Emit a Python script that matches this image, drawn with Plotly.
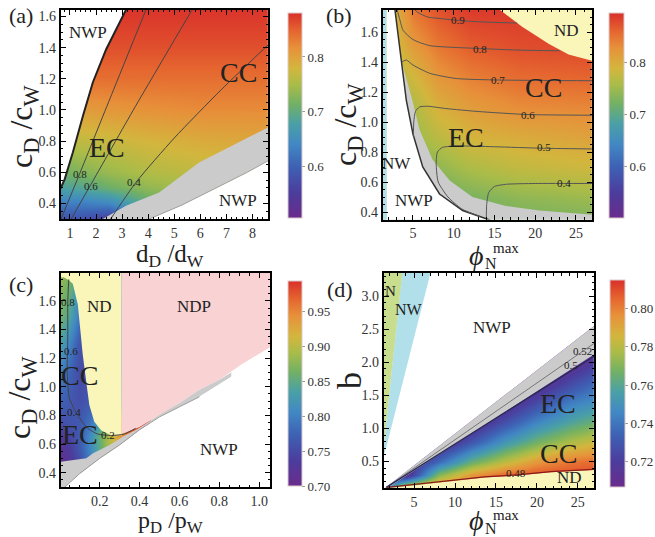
import plotly.graph_objects as go

W, H = 655, 537
SERIF = "Liberation Serif"

def px(x):
    return x / W

def py(y):
    return 1 - y / H

RAINBOW = [[0.0, '#6a2c8c'], [0.12, '#4c3c9c'], [0.25, '#3e61b4'], [0.36, '#4188c4'],
           [0.46, '#4aa0a6'], [0.56, '#74b163'], [0.65, '#a9bc49'], [0.73, '#d3b63d'],
           [0.83, '#e7913a'], [0.91, '#e5662f'], [1.0, '#d9302a']]

GRAY = '#cbcbcb'
YELLOW = '#faf5b9'
PINK = '#f9d3d4'
BLUE = '#b1e0ea'
GREEN = '#c9dd8e'

# ================= panel (a) =================
A_XN = [0.5, 1.5, 2.5, 4, 6, 8.8]
A_YN = [0.28, 0.4, 0.5, 0.6, 0.8, 1.0, 1.2, 1.4, 1.66]
A_Z = [
    [0.57, 0.57, 0.53, 0.66, 0.70, 0.72],
    [0.63, 0.63, 0.64, 0.70, 0.73, 0.75],
    [0.68, 0.69, 0.71, 0.735, 0.75, 0.76],
    [0.71, 0.725, 0.74, 0.755, 0.765, 0.775],
    [0.76, 0.765, 0.77, 0.78, 0.79, 0.795],
    [0.805, 0.805, 0.81, 0.815, 0.82, 0.82],
    [0.84, 0.84, 0.84, 0.84, 0.84, 0.84],
    [0.86, 0.86, 0.86, 0.86, 0.86, 0.86],
    [0.878, 0.878, 0.878, 0.878, 0.878, 0.878],
]
A_NWP_X = [0.5, 0.65, 0.8, 1.11, 1.5, 1.88, 2.39, 3.15, 3.25, 0.5]
A_NWP_Y = [0.49, 0.50, 0.556, 0.727, 0.963, 1.178, 1.39, 1.645, 1.70, 1.70]
A_EDGE_X = [0.6, 0.65, 0.8, 1.11, 1.5, 1.88, 2.39, 3.15, 3.2]
A_EDGE_Y = [0.49, 0.50, 0.556, 0.727, 0.963, 1.178, 1.39, 1.645, 1.66]
A_GRAY_X = [1.9, 2.26, 3.15, 4.42, 5.95, 8.6, 8.8, 8.8, 8.6, 7.8, 6.6, 5.3, 4.04, 4.0]
A_GRAY_Y = [0.28, 0.30, 0.385, 0.47, 0.663, 0.888, 0.905, 0.66, 0.674, 0.6, 0.5, 0.39, 0.30, 0.28]
A_WHITE_X = [4.0, 4.04, 5.3, 6.6, 7.8, 8.6, 8.8, 8.8]
A_WHITE_Y = [0.28, 0.30, 0.39, 0.5, 0.6, 0.674, 0.66, 0.28]
A_C08_X = [0.61, 1.37, 2.6, 3.92]
A_C08_Y = [0.28, 0.59, 1.10, 1.645]
A_C06_X = [0.98, 1.78, 3.5, 5.69]
A_C06_Y = [0.28, 0.515, 1.02, 1.645]
A_C04_X = [2.48, 3.53, 5.0, 6.8, 8.8]
A_C04_Y = [0.28, 0.535, 0.82, 1.13, 1.45]

# ================= panel (b) =================
B_XN = [1, 3, 5, 8, 12, 18, 27.5]
B_YN = [0.33, 0.5, 0.7, 0.9, 1.1, 1.3, 1.5, 1.77]
B_Z = [
    [0.70, 0.70, 0.70, 0.705, 0.71, 0.72, 0.725],
    [0.71, 0.71, 0.71, 0.715, 0.725, 0.74, 0.75],
    [0.72, 0.72, 0.725, 0.74, 0.76, 0.775, 0.785],
    [0.73, 0.735, 0.745, 0.77, 0.79, 0.80, 0.81],
    [0.745, 0.75, 0.76, 0.795, 0.815, 0.83, 0.835],
    [0.76, 0.765, 0.785, 0.82, 0.84, 0.855, 0.86],
    [0.775, 0.785, 0.815, 0.845, 0.865, 0.875, 0.88],
    [0.79, 0.80, 0.85, 0.875, 0.89, 0.89, 0.89],
]
B_NW_X = [0.5, 1.73, 1.73, 0.5]
B_NW_Y = [0.3, 0.3, 1.8, 1.8]
B_NWP_X = [1.73, 1.73, 2.76, 2.76, 3.16, 3.57, 4.18, 5.0, 6.2, 8.26, 11.1, 13.2, 14.5, 15.0]
B_NWP_Y = [0.3, 1.8, 1.8, 1.75, 1.59, 1.41, 1.146, 0.92, 0.70, 0.52, 0.41, 0.37, 0.35, 0.3]
B_EDGE_X = [2.76, 3.16, 3.57, 4.18, 5.0, 6.2, 8.26, 11.1, 13.2, 14.5]
B_EDGE_Y = [1.76, 1.59, 1.41, 1.146, 0.92, 0.70, 0.52, 0.41, 0.37, 0.345]
B_GRAY_X = [3.57, 4.1, 4.9, 5.8, 7.4, 9.5, 12.3, 16.4, 20.5, 27.5, 27.5, 15.0, 14.5, 13.2, 11.1, 8.26, 6.2, 5.0, 4.18]
B_GRAY_Y = [1.41, 1.31, 1.15, 0.95, 0.75, 0.61, 0.50, 0.44, 0.41, 0.38, 0.3, 0.3, 0.35, 0.37, 0.41, 0.52, 0.70, 0.92, 1.146]
B_ND_X = [15.6, 15.6, 18.4, 21.7, 24.1, 26.6, 27.5, 27.5]
B_ND_Y = [1.8, 1.75, 1.635, 1.52, 1.45, 1.41, 1.40, 1.8]
B_C09_X = [5.0, 5.6, 6.8, 8.3, 11.0, 14.4, 17.8]
B_C09_Y = [1.76, 1.73, 1.70, 1.69, 1.675, 1.665, 1.66]
B_C08_X = [3.0, 3.4, 3.8, 5.0, 7.0, 13.2, 17.6, 23.0]
B_C08_Y = [1.76, 1.68, 1.61, 1.55, 1.51, 1.49, 1.48, 1.475]
B_C07_X = [3.6, 4.18, 5.0, 7.04, 10.3, 15.4, 27.5]
B_C07_Y = [1.40, 1.413, 1.38, 1.325, 1.29, 1.28, 1.275]
B_C06_X = [5.05, 5.1, 5.3, 5.8, 6.8, 9.0, 13.0, 19.0, 27.5]
B_C06_Y = [0.90, 1.0, 1.07, 1.10, 1.105, 1.09, 1.07, 1.05, 1.045]
B_C05_X = [13.2, 11.0, 9.3, 8.1, 7.85, 8.0, 8.6, 10.0, 15.0, 21.0, 27.5]
B_C05_Y = [0.37, 0.42, 0.50, 0.60, 0.72, 0.80, 0.83, 0.84, 0.835, 0.825, 0.82]
B_C04_X = [14.0, 14.05, 14.3, 15.0, 16.5, 20.0, 27.5]
B_C04_Y = [0.34, 0.45, 0.53, 0.57, 0.585, 0.59, 0.59]

# ================= panel (c) =================
C_XN = [-0.02, 0.05, 0.1, 0.15, 0.2, 0.25, 0.3, 0.35, 0.42]
C_YN = [0.45, 0.55, 0.65, 0.75, 0.9, 1.1, 1.3, 1.5, 1.82]
C_Z = [
    [0.70, 0.72, 0.75, 0.79, 0.84, 0.89, 0.93, 0.96, 0.99],
    [0.705, 0.735, 0.765, 0.805, 0.85, 0.895, 0.935, 0.965, 0.99],
    [0.72, 0.745, 0.77, 0.81, 0.86, 0.90, 0.94, 0.97, 0.99],
    [0.75, 0.76, 0.765, 0.79, 0.83, 0.88, 0.93, 0.97, 0.99],
    [0.78, 0.765, 0.755, 0.765, 0.78, 0.80, 0.82, 0.84, 0.86],
    [0.81, 0.775, 0.75, 0.755, 0.76, 0.77, 0.78, 0.79, 0.80],
    [0.85, 0.80, 0.76, 0.755, 0.76, 0.77, 0.78, 0.79, 0.80],
    [0.875, 0.84, 0.79, 0.77, 0.77, 0.78, 0.78, 0.79, 0.80],
    [0.89, 0.87, 0.83, 0.80, 0.80, 0.80, 0.80, 0.80, 0.80],
]
C_ND_X = [-0.05, 0.02, 0.045, 0.065, 0.09, 0.098, 0.115, 0.132, 0.148, 0.173, 0.207, 0.257, 0.31, 0.31, -0.05]
C_ND_Y = [1.76, 1.765, 1.745, 1.72, 1.577, 1.46, 1.225, 1.04, 0.873, 0.756, 0.697, 0.662, 0.662, 1.9, 1.9]
C_NDP_X = [0.31, 0.31, 1.2, 1.2, 1.053, 1.0, 0.9, 0.8, 0.7, 0.6, 0.5, 0.4, 0.31]
C_NDP_Y = [0.67, 1.9, 1.9, 1.30, 1.275, 1.23, 1.145, 1.05, 0.98, 0.887, 0.805, 0.72, 0.67]
C_GRAY_X = [-0.05, 0.005, 0.133, 0.167, 0.25, 0.317, 0.383, 0.41, 0.5, 0.6, 0.7, 0.8, 0.86,
            0.86, 0.7, 0.6, 0.5, 0.4, 0.3, 0.2, 0.1, 0.033, 0.01, -0.05]
C_GRAY_Y = [0.476, 0.476, 0.50, 0.535, 0.594, 0.652, 0.70, 0.722, 0.805, 0.887, 0.98, 1.05, 1.10,
            1.07, 0.93, 0.86, 0.79, 0.70, 0.594, 0.50, 0.394, 0.31, 0.28, 0.28]
C_WHITE_X = [0.01, 0.033, 0.1, 0.2, 0.3, 0.4, 0.5, 0.6, 0.7, 0.86, 0.9, 1.0, 1.053, 1.2, 1.2, 0.01]
C_WHITE_Y = [0.28, 0.31, 0.394, 0.50, 0.594, 0.70, 0.79, 0.86, 0.93, 1.07, 1.145, 1.23, 1.275, 1.30, 0.2, 0.2]
C_EDGE_X = [0.01, 0.033, 0.1, 0.2, 0.3, 0.4, 0.5, 0.6, 0.7]
C_EDGE_Y = [0.28, 0.31, 0.394, 0.50, 0.594, 0.70, 0.79, 0.86, 0.93]
C_CON_X = [0.045, 0.04, 0.04, 0.037, 0.048, 0.09, 0.14, 0.19, 0.26, 0.323, 0.38]
C_CON_Y = [1.75, 1.6, 1.34, 1.11, 0.92, 0.80, 0.71, 0.67, 0.66, 0.67, 0.71]

# ================= panel (d) =================
D_XN = [1.0, 4, 8, 12, 16, 20, 24, 27.5]
D_YN = [0.05, 0.3, 0.5, 0.8, 1.1, 1.4, 1.7, 2.0, 2.3, 3.4]
D_Z = [
    [0.75, 0.81, 0.81, 0.81, 0.81, 0.81, 0.81, 0.81],
    [0.708, 0.71, 0.771, 0.795, 0.805, 0.809, 0.81, 0.81],
    [0.708, 0.708, 0.737, 0.765, 0.781, 0.795, 0.802, 0.805],
    [0.708, 0.708, 0.708, 0.73, 0.751, 0.767, 0.778, 0.785],
    [0.708, 0.708, 0.708, 0.708, 0.727, 0.745, 0.758, 0.766],
    [0.708, 0.708, 0.708, 0.708, 0.708, 0.725, 0.742, 0.749],
    [0.708, 0.708, 0.708, 0.708, 0.708, 0.708, 0.724, 0.737],
    [0.708, 0.708, 0.708, 0.708, 0.708, 0.708, 0.708, 0.72],
    [0.708, 0.708, 0.708, 0.708, 0.708, 0.708, 0.708, 0.708],
    [0.708, 0.708, 0.708, 0.708, 0.708, 0.708, 0.708, 0.708],
]
D_WHITE_X = [0.9, 1.45, 27.5, 27.5, 0.9]
D_WHITE_Y = [0.0, 0.1, 2.60, 3.5, 3.5]
D_GRAY_X = [1.45, 27.5, 27.5, 1.75]
D_GRAY_Y = [0.1, 2.60, 2.16, 0.1]
D_NW_X = [3.57, 7.1, 1.57, 1.3, 1.0, 1.0, 1.3]
D_NW_Y = [3.4, 3.4, 0.70, 0.60, 0.60, 0.75, 0.75]
D_N_X = [1.0, 3.6, 1.3, 1.0]
D_N_Y = [3.4, 3.4, 0.75, 0.75]
D_ND_X = [1.5, 1.7, 5.4, 9.5, 13.6, 17.6, 21.7, 26.9, 27.5, 27.5]
D_ND_Y = [0.0, 0.1, 0.146, 0.197, 0.258, 0.288, 0.338, 0.373, 0.375, 0.0]
D_C052_X = [1.6, 27.5]
D_C052_Y = [0.11, 2.33]
D_C05_X = [1.6, 27.5]
D_C05_Y = [0.11, 2.13]
D_C048_X = [1.7, 5.4, 9.5, 13.6, 17.6, 21.7, 26.9, 27.5]
D_C048_Y = [0.11, 0.156, 0.207, 0.268, 0.298, 0.348, 0.383, 0.385]

fig = go.Figure()

PANELS = {
    'a': dict(x0=61, x1=269, y0=9.5, y1=219, xr=[0.65, 8.6], yr=[0.3, 1.645],
              xt=(1, 1, 0.2, 'd'), yt=(0.4, 0.2, 0.05, '.1f')),
    'b': dict(x0=384, x1=594, y0=9.5, y1=219.5, xr=[1.3, 27.0], yr=[0.35, 1.75],
              xt=(5, 5, 1, 'd'), yt=(0.4, 0.2, 0.05, '.1f')),
    'c': dict(x0=61, x1=271, y0=273, y1=487, xr=[0.005, 1.055], yr=[0.3, 1.795],
              xt=(0.2, 0.2, 0.05, '.1f'), yt=(0.4, 0.2, 0.05, '.1f')),
    'd': dict(x0=385, x1=596, y0=273, y1=488, xr=[1.3, 27.0], yr=[0.1, 3.35],
              xt=(5, 5, 1, 'd'), yt=(0.5, 0.5, 0.1, '.1f')),
}
AX = {'a': ('x', 'y'), 'b': ('x2', 'y2'), 'c': ('x3', 'y3'), 'd': ('x4', 'y4')}


def cbar(xpix, ytop, ybot, tickvals, fmt, thick):
    return dict(x=px(xpix), xanchor='left', y=py((ytop + ybot) / 2), yanchor='middle',
                len=(ybot - ytop) / H, lenmode='fraction', thickness=thick, thicknessmode='pixels',
                xpad=0, ypad=0, outlinewidth=1, outlinecolor='#d9c9cc',
                tickvals=tickvals, tickformat=fmt, ticks='outside', ticklen=3, tickcolor='#999',
                tickfont=dict(family=SERIF, size=13, color='#333'))


def heat(p, xn, yn, z, zmin, zmax, cb):
    xa, ya = AX[p]
    fig.add_trace(go.Heatmap(x=xn, y=yn, z=z, zmin=zmin, zmax=zmax, zsmooth='best',
                             colorscale=RAINBOW, colorbar=cb, xaxis=xa, yaxis=ya, hoverinfo='skip'))


def poly(p, xs, ys, color):
    xa, ya = AX[p]
    fig.add_trace(go.Scatter(x=xs, y=ys, fill='toself', fillcolor=color, mode='lines',
                             line=dict(width=0, color=color), xaxis=xa, yaxis=ya,
                             hoverinfo='skip', showlegend=False))


def line(p, xs, ys, color='#444', width=1, shape='spline'):
    xa, ya = AX[p]
    fig.add_trace(go.Scatter(x=xs, y=ys, mode='lines', line=dict(width=width, color=color, shape=shape,
                                                                 smoothing=0.6),
                             xaxis=xa, yaxis=ya, hoverinfo='skip', showlegend=False))


# (a)
heat('a', A_XN, A_YN, A_Z, 0.507, 0.88, cbar(289, 13, 218, [0.6, 0.7, 0.8], '.1f', 14))
poly('a', A_NWP_X, A_NWP_Y, 'white')
poly('a', A_GRAY_X, A_GRAY_Y, GRAY)
poly('a', A_WHITE_X, A_WHITE_Y, 'white')
line('a', A_EDGE_X, A_EDGE_Y, '#222', 2, 'linear')
line('a', A_WHITE_X[:6], A_WHITE_Y[:6], '#a0a0a0', 1, 'linear')
line('a', A_C08_X, A_C08_Y)
line('a', A_C06_X, A_C06_Y)
line('a', A_C04_X, A_C04_Y)

# (b)
heat('b', B_XN, B_YN, B_Z, 0.5, 0.895, cbar(611, 13, 218, [0.6, 0.7, 0.8], '.1f', 15))
poly('b', B_GRAY_X, B_GRAY_Y, GRAY)
poly('b', B_NWP_X, B_NWP_Y, 'white')
poly('b', B_NW_X, B_NW_Y, BLUE)
poly('b', B_ND_X, B_ND_Y, YELLOW)
line('b', B_EDGE_X, B_EDGE_Y, '#333', 1.5, 'linear')
for xs, ys in [(B_C09_X, B_C09_Y), (B_C08_X, B_C08_Y), (B_C07_X, B_C07_Y),
               (B_C06_X, B_C06_Y), (B_C05_X, B_C05_Y), (B_C04_X, B_C04_Y)]:
    line('b', xs, ys, '#555', 1)

# (c)
heat('c', C_XN, C_YN, C_Z, 0.70, 0.993,
     cbar(289, 281, 486, [0.70, 0.75, 0.80, 0.85, 0.90, 0.95], '.2f', 14))
poly('c', C_ND_X, C_ND_Y, YELLOW)
poly('c', C_NDP_X, C_NDP_Y, PINK)
poly('c', C_GRAY_X, C_GRAY_Y, GRAY)
poly('c', C_WHITE_X, C_WHITE_Y, 'white')
line('c', C_EDGE_X, C_EDGE_Y, '#999', 1, 'linear')
line('c', C_CON_X, C_CON_Y, '#444', 1)

# (d)
heat('d', D_XN, D_YN, D_Z, 0.707, 0.815,
     cbar(612, 280, 486.5, [0.72, 0.74, 0.76, 0.78, 0.80], '.2f', 15))
poly('d', D_WHITE_X, D_WHITE_Y, 'white')
poly('d', D_GRAY_X, D_GRAY_Y, GRAY)
poly('d', D_NW_X, D_NW_Y, BLUE)
poly('d', D_N_X, D_N_Y, GREEN)
poly('d', D_ND_X, D_ND_Y, YELLOW)
line('d', D_C052_X, D_C052_Y, '#777', 1, 'linear')
line('d', D_C05_X, D_C05_Y, '#2a2a55', 1.3, 'linear')
line('d', D_C048_X, D_C048_Y, '#8a1a1a', 1.2, 'linear')

# ----- axes -----
layout_axes = {}
for i, p in enumerate(['a', 'b', 'c', 'd']):
    P = PANELS[p]
    sfx = '' if i == 0 else str(i + 1)
    common = dict(showline=True, linecolor='black', linewidth=2, mirror='allticks', ticks='inside',
                  ticklen=5, tickwidth=1, tickcolor='black', showgrid=False, zeroline=False,
                  tickmode='linear', tickfont=dict(family=SERIF, size=14, color='#333'))
    for key, dom, rng, tk, anc in (('xaxis', [px(P['x0']), px(P['x1'])], P['xr'], P['xt'], 'y'),
                                   ('yaxis', [py(P['y1']), py(P['y0'])], P['yr'], P['yt'], 'x')):
        t0, dt, mdt, fmt = tk
        layout_axes[key + sfx] = dict(common, domain=dom, range=rng, tick0=t0, dtick=dt,
                                      tickformat=fmt, anchor=anc + sfx,
                                      minor=dict(ticks='inside', ticklen=2.5, tickcolor='black',
                                                 tick0=t0, dtick=mdt, showgrid=False))

fig.update_layout(width=W, height=H, margin=dict(l=0, r=0, t=0, b=0),
                  paper_bgcolor='white', plot_bgcolor='white', showlegend=False,
                  font=dict(family=SERIF, color='#222'), **layout_axes)

ann = []


def txt(p, x, y, s, size, color='#222'):
    xa, ya = AX[p]
    ann.append(dict(x=x, y=y, xref=xa, yref=ya, text=s, showarrow=False,
                    xanchor='center', yanchor='middle', borderpad=0,
                    font=dict(family=SERIF, size=size, color=color)))


def ptxt(xp, yp, s, size, angle=0, italic=False):
    ann.append(dict(x=px(xp), y=py(yp), xref='paper', yref='paper', text=s, showarrow=False,
                    xanchor='center', yanchor='middle', textangle=angle, borderpad=0,
                    font=dict(family=SERIF, size=size, color='#222',
                              style='italic' if italic else 'normal')))


# region labels
txt('a', 1.69, 1.50, 'NWP', 17); txt('a', 7.48, 1.24, 'CC', 28); txt('a', 2.41, 0.76, 'EC', 28)
txt('a', 7.45, 0.42, 'NWP', 17)
txt('a', 1.37, 0.59, '0.8', 11); txt('a', 1.80, 0.515, '0.6', 11); txt('a', 3.45, 0.535, '0.4', 11)

txt('b', 23.8, 1.613, 'ND', 17); txt('b', 21.0, 1.23, 'CC', 28); txt('b', 11.5, 0.90, 'EC', 28)
txt('b', 3.04, 0.725, 'NW', 17); txt('b', 5.08, 0.48, 'NWP', 17)
txt('b', 10.5, 1.68, '0.9', 11); txt('b', 13.2, 1.49, '0.8', 11); txt('b', 15.4, 1.28, '0.7', 11)
txt('b', 19.1, 1.047, '0.6', 11); txt('b', 21.1, 0.835, '0.5', 11); txt('b', 23.6, 0.595, '0.4', 11)

txt('c', 0.20, 1.558, 'ND', 17); txt('c', 0.675, 1.558, 'NDP', 17); txt('c', 0.10, 1.077, 'CC', 28)
txt('c', 0.10, 0.668, 'EC', 28); txt('c', 0.80, 0.56, 'NWP', 17)
txt('c', 0.04, 1.59, '0.8', 11); txt('c', 0.057, 1.25, '0.6', 11); txt('c', 0.073, 0.825, '0.4', 11)
txt('c', 0.24, 0.665, '0.2', 11)

txt('d', 2.15, 3.08, 'N', 15); txt('d', 4.39, 2.80, 'NW', 16); txt('d', 14.5, 2.52, 'NWP', 17)
txt('d', 22.6, 1.38, 'EC', 28); txt('d', 22.7, 0.626, 'CC', 28); txt('d', 24.0, 0.257, 'ND', 17)
txt('d', 25.6, 2.17, '0.52', 11); txt('d', 24.2, 1.955, '0.5', 11); txt('d', 17.4, 0.323, '0.48', 11)

# panel letters
ptxt(21, 16, '(a)', 22); ptxt(340, 16, '(b)', 22); ptxt(21, 284, '(c)', 22); ptxt(341, 289, '(d)', 22)

# axis titles
ptxt(24, 126, 'c<sub>D</sub> /c<sub>W</sub>', 32, -90)
ptxt(349, 124, 'c<sub>D</sub> /c<sub>W</sub>', 32, -90)
ptxt(21, 397, 'c<sub>D</sub> /c<sub>W</sub>', 32, -90)
ptxt(350, 380, 'b', 34, -90)
ptxt(171, 255, 'd<sub>D</sub> /d<sub>W</sub>', 25)
ptxt(171, 522, 'p<sub>D</sub> /p<sub>W</sub>', 24)
# phi_N^max for (b) and (d)
ptxt(478, 256, 'ϕ', 28, italic=True)
ptxt(493, 263, 'N', 16)
ptxt(508, 248, 'max', 15)
ptxt(478, 520, 'ϕ', 28, italic=True)
ptxt(493, 528, 'N', 16)
ptxt(508, 515, 'max', 15)

fig.update_layout(annotations=ann)
fig.write_html("out.html", config={'displayModeBar': False},
               post_script="document.body.style.margin='0';document.body.style.padding='0';"
                           "document.body.style.overflow='hidden';")
